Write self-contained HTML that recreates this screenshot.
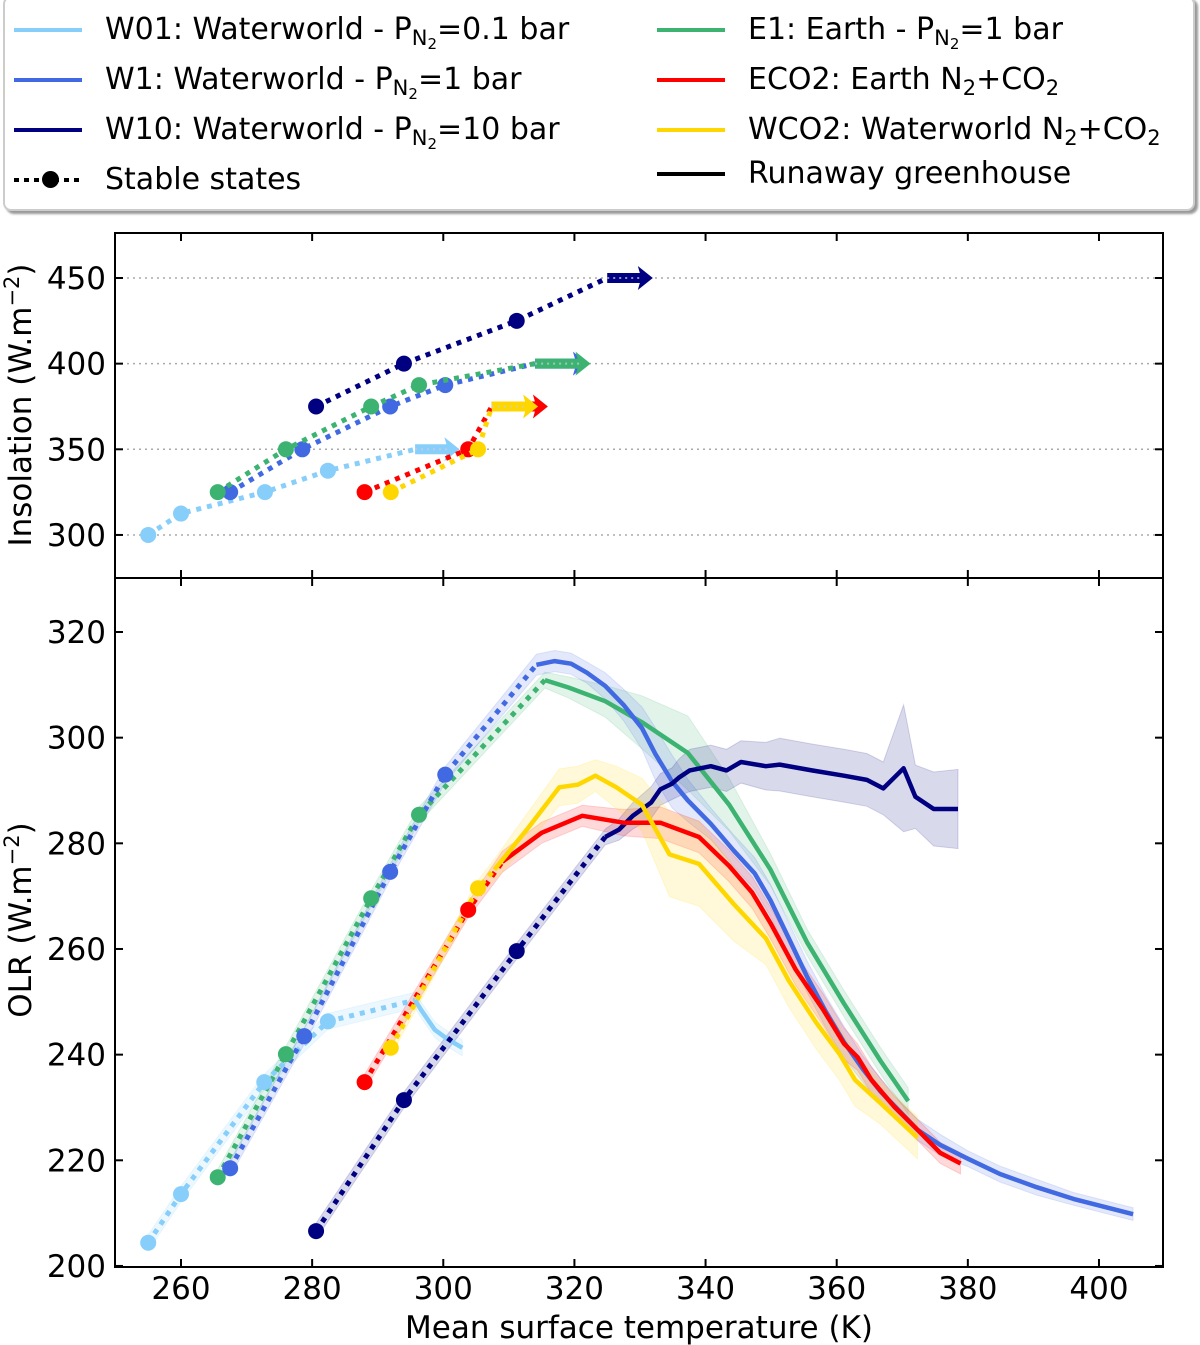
<!DOCTYPE html>
<html><head><meta charset="utf-8">
<style>
body{margin:0;background:#fff;width:1200px;height:1345px;overflow:hidden;font-family:"DejaVu Sans","Liberation Sans",sans-serif;}
#legend{position:absolute;left:3px;top:-4px;width:1192px;height:215px;border:2px solid #ccc;border-radius:8px;box-shadow:3px 3px 2px #999;background:#fff;box-sizing:border-box;}
.le{position:absolute;font-size:30px;color:#000;white-space:nowrap;height:34px;line-height:34px}
.le .ln{position:absolute;left:-91px;top:15px;width:68px;height:4px}
sub{font-size:21px;vertical-align:-6px;line-height:0}
sub sub{font-size:15px;vertical-align:-4px}
svg{position:absolute;left:0;top:0}
</style></head><body>
<div id="legend">
 <div class="le" style="left:100px;top:15px"><span class="ln" style="background:#87cefa"></span>W01: Waterworld - P<sub>N<sub>2</sub></sub>=0.1 bar</div>
 <div class="le" style="left:100px;top:65px"><span class="ln" style="background:#4169e1"></span>W1: Waterworld - P<sub>N<sub>2</sub></sub>=1 bar</div>
 <div class="le" style="left:100px;top:115px"><span class="ln" style="background:#000080"></span>W10: Waterworld - P<sub>N<sub>2</sub></sub>=10 bar</div>
 <div class="le" style="left:100px;top:165px"><span class="ln" style="background:repeating-linear-gradient(90deg,#000 0 5px,transparent 5px 10px)"></span><span style="position:absolute;left:-63px;top:8px;width:17px;height:17px;border-radius:50%;background:#000"></span>Stable states</div>
 <div class="le" style="left:743px;top:15px"><span class="ln" style="background:#3cb371"></span>E1: Earth - P<sub>N<sub>2</sub></sub>=1 bar</div>
 <div class="le" style="left:743px;top:65px"><span class="ln" style="background:#ff0000"></span>ECO2: Earth N<sub>2</sub>+CO<sub>2</sub></div>
 <div class="le" style="left:743px;top:115px"><span class="ln" style="background:#ffd700"></span>WCO2: Waterworld N<sub>2</sub>+CO<sub>2</sub></div>
 <div class="le" style="left:743px;top:159px"><span class="ln" style="background:#000"></span>Runaway greenhouse</div>
</div>
<svg id="chart" width="1200" height="1345"></svg>
<script>
// ---- data ----
const xTicks=[260,280,300,320,340,360,380,400];
const topTicks=[300,350,400,450];
const botTicks=[200,220,240,260,280,300,320];
// top panel stable states
const w01TopT=[255,260,272.8,282.4], w01TopI=[300,312.5,325,337.5], w01Arrow=[295.7,302,350];
const w1TopT=[267.5,278.5,291.9,300.3], w1TopI=[325,350,375,387.5], w1Arrow=[314,321.6,400];
const e1TopT=[265.6,276,289,296.3], e1TopI=[325,350,375,387.5], e1Arrow=[314,322,400];
const w10TopT=[280.6,294,311.2], w10TopI=[375,400,425], w10Arrow=[325,331.5,450];
const eco2TopT=[288,303.8], eco2TopI=[325,350], eco2Arrow=[307.4,315.5,375];
const wco2TopT=[292,305.3], wco2TopI=[325,350], wco2Arrow=[307.4,314,375];
// bottom panel: stable states (dotted) and runaway curves (solid)
const w01StT=[255,260,272.7,282.4], w01StV=[204.4,213.6,234.8,246.3];
const w01CT=[295.7,296.6,298.7,300.6,302.9], w01CV=[250.3,248.5,244.7,243,241.3], w01CS=[1.5,1.5,1.5,1.5,1.5];
const w1StT=[267.5,278.8,291.9,300.3], w1StV=[218.5,243.5,274.6,293];
const w1CT=[314.2,317,319.5,321.9,324.7,327.5,330.3,332.4,334.9,337.3,340.8,344.3,347.5,349.9,352.7,355.5,358.3,361.1,363.9,366.7,369.5,372.3,375.8,380,384.9,390.5,396.1,405.2];
const w1CV=[313.8,314.5,314,312.3,309.8,306.2,301.8,296.8,291.7,288.1,283.7,278.6,274.3,269.2,262,254.7,248.2,242.4,237.4,233,229.4,225.8,222.9,220.3,217.4,214.9,212.7,209.8];
const w1CS=[2,2,2,2,2.5,3,4,5,5,4,3,3,3,3,3,3,3,3,2.5,2.5,2,2,2,1.5,1.5,1.5,1.2,1.2];
const e1StT=[265.6,276,289,296.3], e1StV=[216.8,240.1,269.6,285.4];
const e1CT=[315.5,319.1,324.7,330.3,337.3,343.6,349.9,355.5,361.1,366.7,370.9];
const e1CV=[310.9,309.5,306.9,302.9,297.1,287.3,275,261.2,249.7,238.8,231.2];
const e1CS=[1.5,2,3,5,7,5,3,2.5,2.5,2.5,2.5];
const w10StT=[280.6,294,311.2], w10StV=[206.6,231.4,259.6];
const w10CT=[324.7,326.8,328.9,331.7,333.1,334.9,335.9,337.6,340.8,343.2,345.4,349.2,351.3,356.2,361.1,364.6,367.1,370.2,372,374.8,378.5];
const w10CV=[281.2,282.6,285.2,287.7,290.2,291.3,292.4,293.8,294.6,293.8,295.4,294.6,294.9,293.8,292.8,292,290.4,294.2,288.8,286.5,286.5];
const w10CS=[1.5,2,2.5,3,3,3,3.5,4,4,4,4,4.5,5,5,5,5,5,12,6,7,7.5];
const eco2StT=[288,303.8], eco2StV=[234.8,267.4];
const eco2CT=[309,315,321.2,327.5,333.1,339,343.6,347.1,349.9,353.7,357.9,361.1,363.2,365.3,368.8,372.3,375.8,378.9];
const eco2CV=[276.5,282,285.2,283.9,283.9,281.2,275.7,270.7,264.9,256.2,248.6,242.1,239.5,235.2,230.1,225.8,221.4,219.4];
const eco2CS=[2,2,2,2.5,3,3,3,3,3,3,3,3,2.5,2.5,2,2,2,2];
const wco2StT=[292,305.3], wco2StV=[241.3,271.5];
const wco2CT=[307.8,313,317.7,320.5,323.2,326.4,330.3,334.5,339,344.3,349.2,352.7,356.9,360.4,362.8,366.7,372.3];
const wco2CV=[275,283,290.6,291.1,292.8,290.6,287.3,277.9,276.1,268.5,262,254,246,240.2,235.2,230.8,224.3];
const wco2CS=[2,3,3.5,3.5,3,4,5,8,8,7,5,5,5,5,5,4,4];

// ---- axes ----
const X=t=>181+(t-260)*6.557;
const YT=v=>278+(450-v)*1.713;
const YB=v=>632+(320-v)*5.283;
const L=115,R=1163,T1=233,M=578,B=1267;
const FF='DejaVu Sans, Liberation Sans, sans-serif';
const svg=document.getElementById('chart');
const NS='http://www.w3.org/2000/svg';
function el(tag,attrs,parent){const e=document.createElementNS(NS,tag);for(const k in attrs)e.setAttribute(k,attrs[k]);(parent||svg).appendChild(e);return e;}
function pts(xs,ys,fy){return xs.map((t,i)=>X(t).toFixed(1)+','+fy(ys[i]).toFixed(1)).join(' ');}

topTicks.forEach(v=>{const g=el('line',{x1:L,x2:R,y1:YT(v),y2:YT(v),stroke:'#aaa','stroke-width':1.5,'stroke-dasharray':'2,4'});

});

const cols={w01:'#87cefa',w1:'#4169e1',w10:'#000080',e1:'#3cb371',eco2:'#ff0000',wco2:'#ffd700'};
function dotted(xs,ys,fy,c,name){const p=el('polyline',{points:pts(xs,ys,fy),fill:'none',stroke:c,'stroke-width':5,'stroke-dasharray':'5,6'});

}
function dots(xs,ys,fy,c,name){xs.forEach((t,i)=>{const d=el('circle',{cx:X(t),cy:fy(ys[i]),r:8,fill:c});

});}
function arrow(a,c,name){const x0=X(a[0]),x1=X(a[1]),y=YT(a[2]);
const g=el('polygon',{points:`${x0},${y-5} ${x1-10},${y-5} ${x1-12},${y-12} ${x1+3},${y} ${x1-12},${y+12} ${x1-10},${y+5} ${x0},${y+5}`,fill:c});


const d=el('line',{x1:x0,x2:x1-8,y1:y,y2:y,stroke:'#ccd','stroke-width':2,'stroke-dasharray':'2,4','stroke-opacity':0.7});

}

const topSeries=[['w01',w01TopT,w01TopI,w01Arrow],['w1',w1TopT,w1TopI,w1Arrow],['e1',e1TopT,e1TopI,e1Arrow],['w10',w10TopT,w10TopI,w10Arrow],['eco2',eco2TopT,eco2TopI,eco2Arrow],['wco2',wco2TopT,wco2TopI,wco2Arrow]];
topSeries.forEach(([k,ts,is,a])=>{
 dotted(ts.concat([a[0]]),is.concat([a[2]]),YT,cols[k],'top-'+k+'-line');
 arrow(a,cols[k],'top-'+k+'-arrow');
 dots(ts,is,YT,cols[k],'top-'+k);
});

const botSeries=[['w01',w01StT,w01StV,w01CT,w01CV,w01CS],['e1',e1StT,e1StV,e1CT,e1CV,e1CS],['w1',w1StT,w1StV,w1CT,w1CV,w1CS],['w10',w10StT,w10StV,w10CT,w10CV,w10CS],['eco2',eco2StT,eco2StV,eco2CT,eco2CV,eco2CS],['wco2',wco2StT,wco2StV,wco2CT,wco2CV,wco2CS]];
botSeries.forEach(([k,st,sv,ct,cv,cs])=>{
 const at=st.concat(ct), av=sv.concat(cv), as=st.map(()=>1.5).concat(cs);
 const up=at.map((t,i)=>X(t).toFixed(1)+','+YB(av[i]+as[i]).toFixed(1));
 const lo=at.map((t,i)=>X(t).toFixed(1)+','+YB(av[i]-as[i]).toFixed(1)).reverse();
 const b=el('polygon',{points:up.concat(lo).join(' '),fill:cols[k],'fill-opacity':0.15,stroke:cols[k],'stroke-opacity':0.15});
 
 
});
botSeries.forEach(([k,st,sv,ct,cv])=>{
 dotted(st.concat([ct[0]]),sv.concat([cv[0]]),YB,cols[k],'olr-'+k+'-stable-line');
 const p=el('polyline',{points:pts(ct,cv,YB),fill:'none',stroke:cols[k],'stroke-width':4.5,'stroke-linejoin':'round'});
 
 
});
botSeries.forEach(([k,st,sv])=>dots(st,sv,YB,cols[k],'olr-'+k));

[[T1,M],[M,B]].forEach(([a,b],i)=>{const r=el('rect',{x:L,y:a,width:R-L,height:b-a,fill:'none',stroke:'#000','stroke-width':2});

});
xTicks.forEach(t=>{const x=X(t);
 [[T1,1],[M,-1],[M,1],[B,-1]].forEach(([y,d])=>el('line',{x1:x,x2:x,y1:y,y2:y+d*8,stroke:'#000','stroke-width':2}));
 const lb=el('text',{x:x,y:1299,'font-size':31,'text-anchor':'middle','font-family':FF});lb.textContent=t;
 
 
});
topTicks.forEach(v=>{const y=YT(v);el('line',{x1:L,x2:L+8,y1:y,y2:y,stroke:'#000','stroke-width':2});el('line',{x1:R,x2:R-8,y1:y,y2:y,stroke:'#000','stroke-width':2});
 const lb=el('text',{x:106,y:y+11,'font-size':31,'text-anchor':'end','font-family':FF});lb.textContent=v;
 
 });
botTicks.forEach(v=>{const y=YB(v);el('line',{x1:L,x2:L+8,y1:y,y2:y,stroke:'#000','stroke-width':2});el('line',{x1:R,x2:R-8,y1:y,y2:y,stroke:'#000','stroke-width':2});
 const lb=el('text',{x:106,y:y+11,'font-size':31,'text-anchor':'end','font-family':FF});lb.textContent=v;
 
 });
function title(txt,x,y,rot,name){const t=el('text',{x:x,y:y,'font-size':31,'text-anchor':'middle','font-family':FF,transform:rot?`rotate(-90 ${x} ${y})`:''});t.innerHTML=txt;
 
 }
title('Mean surface temperature (K)',639,1338,false,'x-axis-title');
title('Insolation (W.m<tspan font-size="21" dy="-12">−2</tspan><tspan dy="12">)</tspan>',31,405,true,'top-y-axis-title');
title('OLR (W.m<tspan font-size="21" dy="-12">−2</tspan><tspan dy="12">)</tspan>',31,920,true,'bottom-y-axis-title');
</script>
</body></html>
